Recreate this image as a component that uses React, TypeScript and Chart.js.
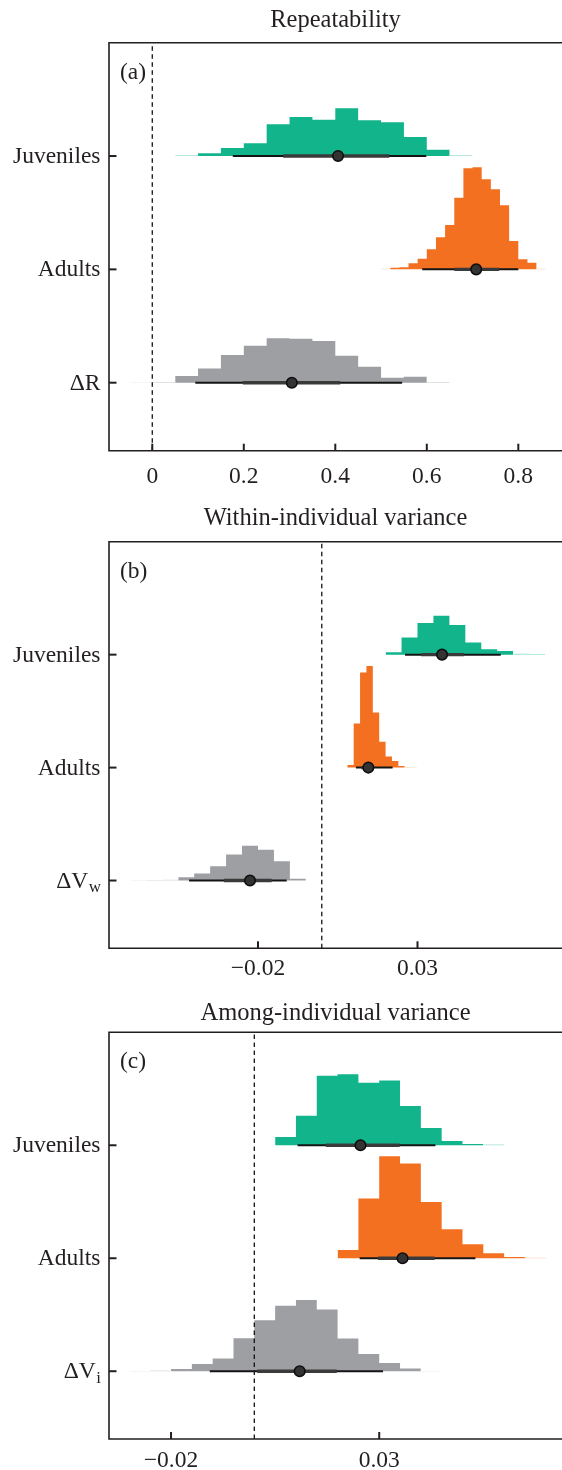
import React, { useEffect, useRef } from "react";
import { Chart, registerables } from "chart.js";

Chart.register(...registerables);

// ---------------- data ----------------
const PANEL_TITLES = ["Repeatability", "Within-individual variance", "Among-individual variance"];
const PANEL_LETTERS = ["(a)", "(b)", "(c)"];

const ROW_NAMES_A = ["Juveniles", "Adults", "ΔR"];
const ROW_SUBS_A = ["", "", ""];
const ROW_NAMES_B = ["Juveniles", "Adults", "ΔV"];
const ROW_SUBS_B = ["", "", "w"];
const ROW_NAMES_C = ["Juveniles", "Adults", "ΔV"];
const ROW_SUBS_C = ["", "", "i"];
const ROW_POS = [3, 2, 1];

const X_TICKS_A = [0, 0.2, 0.4, 0.6, 0.8];
const X_TICK_LABELS_A = ["0", "0.2", "0.4", "0.6", "0.8"];
const X_TICKS_B = [-0.02, 0.03];
const X_TICK_LABELS_B = ["−0.02", "0.03"];
const X_TICKS_C = [-0.02, 0.03];
const X_TICK_LABELS_C = ["−0.02", "0.03"];

// histogram bins: first bin start, bin width, heights (density units; one row = 113.3)
const HIST_START_A = [0.05, 0.5, -0.05];
const HIST_WIDTH_A = [0.05, 0.02, 0.05];
const JUV_HIST_A = [0.7, 2.7, 8, 12.7, 31.7, 39, 36.3, 47.7, 35.7, 33.7, 19, 6.3, 0.7];
const ADU_HIST_A = [0.7, 1.7, 2, 6, 10.7, 20, 32, 44.3, 71.7, 101, 102, 90, 80, 64, 28.3, 10, 6.5, 0.7];
const DIF_HIST_A = [0.3, 0.8, 6.7, 14.3, 27.7, 37, 44.4, 44, 41.7, 27, 16, 5, 6, 0.7];

const HIST_START_B = [0.02, 0.008, -0.06];
const HIST_WIDTH_B = [0.005, 0.002, 0.005];
const JUV_HIST_B = [2.3, 17.3, 31.7, 39, 29.7, 12.3, 5.3, 3.7, 1, 0.6];
const ADU_HIST_B = [2.7, 44.3, 95.4, 102, 55.3, 26, 11, 6.7, 1.7, 0.7, 0.3];
const DIF_HIST_B = [0.3, 0.5, 0.7, 3.3, 7, 14.3, 26, 35, 31, 19.3, 1.7];

const HIST_START_C = [0.005, 0.02, -0.03];
const HIST_WIDTH_C = [0.005, 0.005, 0.005];
const JUV_HIST_C = [8.3, 29.7, 69.7, 71.3, 62.7, 65, 39.3, 17.3, 4.3, 1.3, 0.7];
const ADU_HIST_C = [8.3, 60, 102.3, 95, 56.3, 29, 14, 5, 1.3, 0.5];
const DIF_HIST_C = [0.3, 0.7, 2.3, 7.3, 12.7, 33, 51, 65.7, 71.3, 62, 32.7, 17.3, 8.3, 2.7, 0.3];

// point estimates and intervals (Juveniles, Adults, difference)
const MEDIAN_A = [0.406, 0.708, 0.305];
const INNER_LO_A = [0.286, 0.66, 0.198];
const INNER_HI_A = [0.518, 0.758, 0.411];
const OUTER_LO_A = [0.176, 0.59, 0.094];
const OUTER_HI_A = [0.599, 0.8, 0.546];

const MEDIAN_B = [0.0377, 0.0146, -0.0225];
const INNER_LO_B = [0.0311, 0.0124, -0.0307];
const INNER_HI_B = [0.0446, 0.0164, -0.0157];
const OUTER_LO_B = [0.0261, 0.0107, -0.0416];
const OUTER_HI_B = [0.0561, 0.0222, -0.011];

const MEDIAN_C = [0.0255, 0.0356, 0.0109];
const INNER_LO_C = [0.0172, 0.0297, 0.0007];
const INNER_HI_C = [0.0349, 0.0433, 0.0198];
const OUTER_LO_C = [0.0104, 0.0253, -0.0107];
const OUTER_HI_C = [0.0435, 0.0531, 0.0309];

const REFERENCE_VALUE = 0;

// ---------------- style ----------------
const FONT = "'Liberation Serif', 'DejaVu Serif', serif";
const FONT_SIZE = 23.5;
const TITLE_SIZE = 24.5;
const SUB_SIZE = 17;
const TEXT = "#231f20";
const ROW_COLORS = ["18,180,140", "243,112,33", "157,159,162"];
const DENSITY_PER_ROW = 113.3;
const Y_MIN = 0.4;
const Y_MAX = 4.0;
const LEFT_W = 109;

type PanelDef = {
  title: string;
  letter: string;
  names: string[];
  subs: string[];
  ticks: number[];
  tickLabels: string[];
  starts: number[];
  widths: number[];
  hists: number[][];
  med: number[];
  iLo: number[];
  iHi: number[];
  oLo: number[];
  oHi: number[];
  layout: {
    h: number;
    padTop: number;
    axisH: number;
    xMin: number;
    xMax: number;
    titleGap: number;
    tickBase: number;
  };
};

const PANELS: PanelDef[] = [
  {
    title: PANEL_TITLES[0], letter: PANEL_LETTERS[0], names: ROW_NAMES_A, subs: ROW_SUBS_A,
    ticks: X_TICKS_A, tickLabels: X_TICK_LABELS_A, starts: HIST_START_A, widths: HIST_WIDTH_A,
    hists: [JUV_HIST_A, ADU_HIST_A, DIF_HIST_A],
    med: MEDIAN_A, iLo: INNER_LO_A, iHi: INNER_HI_A, oLo: OUTER_LO_A, oHi: OUTER_HI_A,
    layout: { h: 495, padTop: 42.7, axisH: 44.3, xMin: -0.0946, xMax: 0.8955, titleGap: 15.4, tickBase: 32.6 },
  },
  {
    title: PANEL_TITLES[1], letter: PANEL_LETTERS[1], names: ROW_NAMES_B, subs: ROW_SUBS_B,
    ticks: X_TICKS_B, tickLabels: X_TICK_LABELS_B, starts: HIST_START_B, widths: HIST_WIDTH_B,
    hists: [JUV_HIST_B, ADU_HIST_B, DIF_HIST_B],
    med: MEDIAN_B, iLo: INNER_LO_B, iHi: INNER_HI_B, oLo: OUTER_LO_B, oHi: OUTER_HI_B,
    layout: { h: 495, padTop: 46.7, axisH: 41.7, xMin: -0.0667, xMax: 0.0753, titleGap: 16.7, tickBase: 27 },
  },
  {
    title: PANEL_TITLES[2], letter: PANEL_LETTERS[2], names: ROW_NAMES_C, subs: ROW_SUBS_C,
    ticks: X_TICKS_C, tickLabels: X_TICK_LABELS_C, starts: HIST_START_C, widths: HIST_WIDTH_C,
    hists: [JUV_HIST_C, ADU_HIST_C, DIF_HIST_C],
    med: MEDIAN_C, iLo: INNER_LO_C, iHi: INNER_HI_C, oLo: OUTER_LO_C, oHi: OUTER_HI_C,
    layout: { h: 480, padTop: 42.3, axisH: 31, xMin: -0.0349, xMax: 0.0739, titleGap: 12.3, tickBase: 27.5 },
  },
];

function histDatasets(start: number, width: number, heights: number[], base: number, rgb: string) {
  const out: any[] = [];
  const isLight = (h: number) => h < 1.2;
  let i = 0;
  while (i < heights.length) {
    const light = isLight(heights[i]);
    let j = i;
    while (j + 1 < heights.length && isLight(heights[j + 1]) === light) j++;
    const pts: { x: number; y: number }[] = [];
    for (let k = i; k <= j; k++) {
      pts.push({ x: start + k * width, y: base + heights[k] / DENSITY_PER_ROW });
    }
    pts.push({ x: start + (j + 1) * width, y: base + heights[j] / DENSITY_PER_ROW });
    out.push({
      type: "line",
      data: pts,
      stepped: "before",
      fill: { value: base },
      backgroundColor: light ? `rgba(${rgb},0.4)` : `rgb(${rgb})`,
      borderColor: "rgba(0,0,0,0)",
      borderWidth: 0,
      pointRadius: 0,
      tension: 0,
      order: 10,
    });
    i = j + 1;
  }
  return out;
}

function buildDatasets(p: PanelDef) {
  const ds: any[] = [];
  for (let r = 0; r < 3; r++) {
    ds.push(...histDatasets(p.starts[r], p.widths[r], p.hists[r], ROW_POS[r], ROW_COLORS[r]));
  }
  ds.push({
    type: "line",
    data: [{ x: REFERENCE_VALUE, y: Y_MIN }, { x: REFERENCE_VALUE, y: Y_MAX }],
    borderColor: "#111",
    borderWidth: 1.3,
    borderDash: [4.5, 3.5],
    pointRadius: 0,
    fill: false,
    order: 6,
  });
  for (let r = 0; r < 3; r++) {
    const y = ROW_POS[r];
    ds.push({
      type: "line",
      data: [{ x: p.oLo[r], y }, { x: p.oHi[r], y }],
      borderColor: "#141414",
      borderWidth: 2,
      pointRadius: 0,
      fill: false,
      order: 4,
    });
    ds.push({
      type: "line",
      data: [{ x: p.iLo[r], y }, { x: p.iHi[r], y }],
      borderColor: "#3a3a3a",
      borderWidth: 3.4,
      borderCapStyle: "butt",
      pointRadius: 0,
      fill: false,
      order: 3,
    });
    ds.push({
      type: "line",
      data: [{ x: p.med[r], y }],
      showLine: false,
      pointRadius: 5.3,
      pointBackgroundColor: "#333",
      pointBorderColor: "#0d0d0d",
      pointBorderWidth: 1.5,
      order: 1,
    });
  }
  return ds;
}

function makeDecor(p: PanelDef) {
  return {
    id: "decor",
    afterDraw(chart: any) {
      const ctx = chart.ctx as CanvasRenderingContext2D;
      const { left, right, top, bottom } = chart.chartArea;
      const xs = chart.scales.x;
      const ys = chart.scales.y;
      ctx.save();
      ctx.strokeStyle = TEXT;
      ctx.fillStyle = TEXT;
      // frame
      ctx.lineWidth = 1.6;
      ctx.setLineDash([]);
      ctx.beginPath();
      ctx.moveTo(right + 2, top);
      ctx.lineTo(left, top);
      ctx.lineTo(left, bottom);
      ctx.lineTo(right + 2, bottom);
      ctx.stroke();
      // ticks (inward) and x tick labels
      ctx.lineWidth = 2;
      ctx.font = `${FONT_SIZE}px ${FONT}`;
      ctx.textAlign = "center";
      ctx.textBaseline = "alphabetic";
      p.ticks.forEach((v, i) => {
        const px = xs.getPixelForValue(v);
        ctx.beginPath();
        ctx.moveTo(px, bottom);
        ctx.lineTo(px, bottom - 7);
        ctx.stroke();
        ctx.fillText(p.tickLabels[i], px, bottom + p.layout.tickBase);
      });
      for (const v of ROW_POS) {
        const py = ys.getPixelForValue(v);
        ctx.beginPath();
        ctx.moveTo(left, py);
        ctx.lineTo(left + 7.5, py);
        ctx.stroke();
      }
      // row labels
      ctx.textAlign = "left";
      const labelRight = left - 8.5;
      for (let r = 0; r < 3; r++) {
        const py = ys.getPixelForValue(ROW_POS[r]) + 7;
        ctx.font = `${FONT_SIZE}px ${FONT}`;
        const w1 = ctx.measureText(p.names[r]).width;
        let w2 = 0;
        if (p.subs[r]) {
          ctx.font = `${SUB_SIZE}px ${FONT}`;
          w2 = ctx.measureText(p.subs[r]).width;
        }
        const x0 = labelRight - w1 - w2;
        ctx.font = `${FONT_SIZE}px ${FONT}`;
        ctx.fillText(p.names[r], x0, py);
        if (p.subs[r]) {
          ctx.font = `${SUB_SIZE}px ${FONT}`;
          ctx.fillText(p.subs[r], x0 + w1 + 0.5, py + 4.5);
        }
      }
      // panel letter
      ctx.font = `${FONT_SIZE}px ${FONT}`;
      ctx.fillText(p.letter, left + 11, top + 36);
      // title
      ctx.font = `${TITLE_SIZE}px ${FONT}`;
      ctx.textAlign = "center";
      ctx.fillText(p.title, (left + right) / 2, top - p.layout.titleGap);
      ctx.restore();
    },
  };
}

function Panel({ p }: { p: PanelDef }) {
  const ref = useRef<HTMLCanvasElement | null>(null);
  useEffect(() => {
    if (!ref.current) return;
    const L = p.layout;
    const chart = new Chart(ref.current, {
      type: "line",
      data: { datasets: buildDatasets(p) },
      options: {
        animation: false,
        responsive: false,
        devicePixelRatio: 1,
        layout: { autoPadding: false, padding: { top: L.padTop, left: 0, right: 0, bottom: 0 } },
        plugins: { legend: { display: false }, tooltip: { enabled: false }, title: { display: false } },
        elements: { line: { tension: 0 } },
        scales: {
          x: {
            type: "linear",
            min: L.xMin,
            max: L.xMax,
            grid: { display: false },
            border: { display: false },
            ticks: { display: false },
            afterBuildTicks: (s: any) => {
              s.ticks = p.ticks.map((v) => ({ value: v }));
            },
            afterFit: (s: any) => {
              s.height = L.axisH;
            },
          },
          y: {
            type: "linear",
            min: Y_MIN,
            max: Y_MAX,
            grid: { display: false },
            border: { display: false },
            ticks: { display: false },
            afterFit: (s: any) => {
              s.width = LEFT_W;
            },
          },
        },
      },
      plugins: [makeDecor(p)],
    } as any);
    return () => chart.destroy();
  }, [p]);
  return <canvas ref={ref} width={562} height={p.layout.h} style={{ display: "block" }} />;
}

export default function App() {
  return (
    <div style={{ position: "absolute", left: 0, top: 0, width: 562, background: "#fff" }}>
      {PANELS.map((p, i) => (
        <Panel key={i} p={p} />
      ))}
    </div>
  );
}
